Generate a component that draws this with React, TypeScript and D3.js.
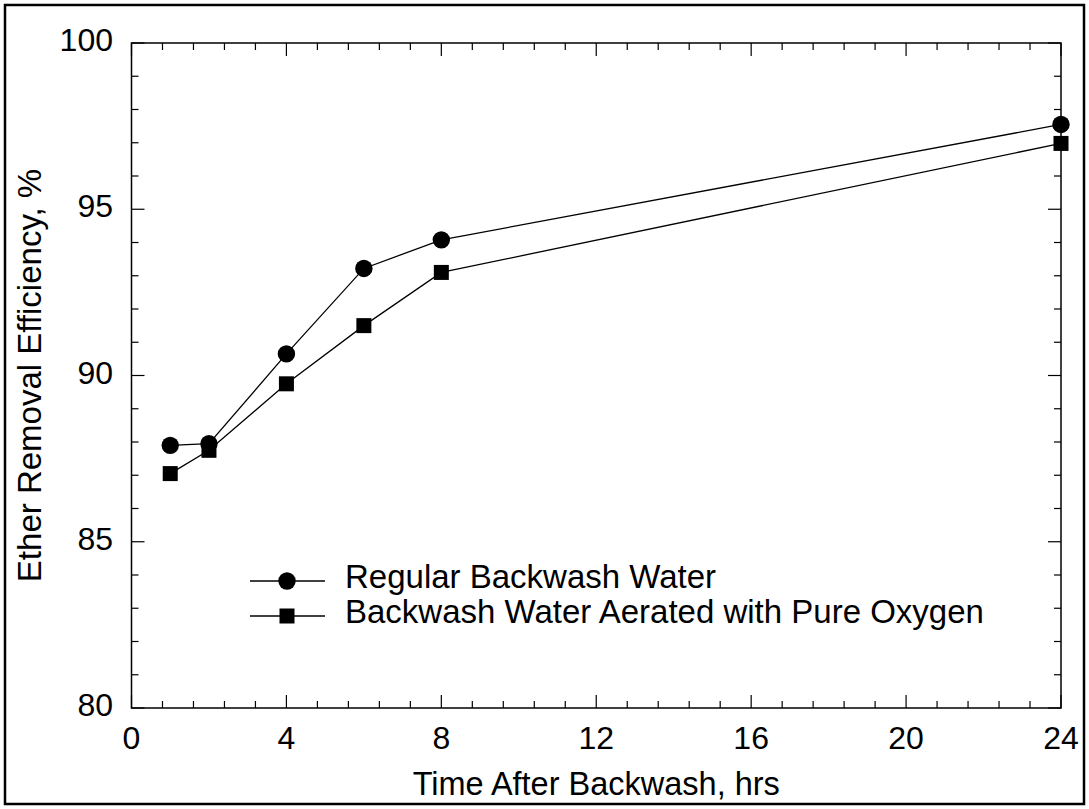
import React from "react";
import * as d3 from "d3";

const hours = [1, 2, 4, 6, 8, 24];
const regularBackwash = [87.9, 87.95, 90.65, 93.22, 94.08, 97.55];
const pureOxygen = [87.05, 87.75, 89.75, 91.5, 93.1, 96.98];
const xTickValues = [0, 4, 8, 12, 16, 20, 24];
const yTickValues = [80, 85, 90, 95, 100];
const seriesNames = ["Regular Backwash Water", "Backwash Water Aerated with Pure Oxygen"];

const W = 1089;
const H = 809;
const M = { left: 131.5, top: 43, right: 1061, bottom: 708 };
const FONT = "'Liberation Sans', Arial, sans-serif";

export default function App() {
  const x = d3.scaleLinear().domain([0, 24]).range([M.left, M.right]);
  const y = d3.scaleLinear().domain([80, 100]).range([M.bottom, M.top]);
  const line = d3
    .line<[number, number]>()
    .x((d) => x(d[0]))
    .y((d) => y(d[1]));

  const xMinor = d3.range(0, 24.001, 0.8).map((v) => Math.round(v * 10) / 10);
  const yMinor = d3.range(80, 100.001, 1);
  const isXMajor = (v: number) => Math.abs(v / 4 - Math.round(v / 4)) < 1e-6;
  const isYMajor = (v: number) => Math.abs(v / 5 - Math.round(v / 5)) < 1e-6;

  const regPts = hours.map((h, i) => [h, regularBackwash[i]] as [number, number]);
  const oxyPts = hours.map((h, i) => [h, pureOxygen[i]] as [number, number]);

  const sq = 15;
  const r = 8.7;
  const legX1 = 250;
  const legX2 = 325;
  const legMid = 287;
  const legY = [581, 616];

  return (
    <svg
      width={W}
      height={H}
      style={{ position: "absolute", left: 0, top: 0, background: "#fff" }}
      fontFamily={FONT}
    >
      <rect x={0} y={0} width={W} height={H} fill="#fff" />
      <rect x={5} y={5} width={W - 10} height={H - 10} fill="none" stroke="#000" strokeWidth={2.5} />

      {/* ticks */}
      {xMinor.map((v) => {
        const len = isXMajor(v) ? 13 : 7;
        return (
          <g key={"xt" + v} stroke="#000" strokeWidth={1.2}>
            <line x1={x(v)} x2={x(v)} y1={M.bottom} y2={M.bottom - len} />
            <line x1={x(v)} x2={x(v)} y1={M.top} y2={M.top + len} />
          </g>
        );
      })}
      {yMinor.map((v) => {
        const len = isYMajor(v) ? 13 : 7;
        return (
          <g key={"yt" + v} stroke="#000" strokeWidth={1.2}>
            <line x1={M.left} x2={M.left + len} y1={y(v)} y2={y(v)} />
            <line x1={M.right} x2={M.right - len} y1={y(v)} y2={y(v)} />
          </g>
        );
      })}

      <rect
        x={M.left}
        y={M.top}
        width={M.right - M.left}
        height={M.bottom - M.top}
        fill="none"
        stroke="#000"
        strokeWidth={1.5}
      />

      {/* tick labels */}
      {xTickValues.map((v) => (
        <text key={"xl" + v} x={x(v)} y={749} textAnchor="middle" fontSize={32} fill="#000">
          {v}
        </text>
      ))}
      {yTickValues.map((v) => (
        <text key={"yl" + v} x={113} y={y(v) + 8} textAnchor="end" fontSize={32} fill="#000">
          {v}
        </text>
      ))}

      {/* axis titles */}
      <text x={(M.left + M.right) / 2} y={795} textAnchor="middle" fontSize={32.5} fill="#000">
        Time After Backwash, hrs
      </text>
      <text
        transform={`translate(41, ${(M.top + M.bottom) / 2}) rotate(-90)`}
        textAnchor="middle"
        fontSize={33}
        fill="#000"
      >
        Ether Removal Efficiency, %
      </text>

      {/* series */}
      <path d={line(regPts) || ""} fill="none" stroke="#000" strokeWidth={1.3} />
      <path d={line(oxyPts) || ""} fill="none" stroke="#000" strokeWidth={1.3} />
      {regPts.map((p, i) => (
        <circle key={"c" + i} cx={x(p[0])} cy={y(p[1])} r={r} fill="#000" />
      ))}
      {oxyPts.map((p, i) => (
        <rect key={"s" + i} x={x(p[0]) - sq / 2} y={y(p[1]) - sq / 2} width={sq} height={sq} fill="#000" />
      ))}

      {/* legend */}
      {seriesNames.map((name, i) => (
        <g key={"lg" + i}>
          <line x1={legX1} x2={legX2} y1={legY[i]} y2={legY[i]} stroke="#000" strokeWidth={1.3} />
          {i === 0 ? (
            <circle cx={legMid} cy={legY[i]} r={r} fill="#000" />
          ) : (
            <rect x={legMid - sq / 2} y={legY[i] - sq / 2} width={sq} height={sq} fill="#000" />
          )}
          <text x={345} y={legY[i] + 7} fontSize={33} fill="#000">
            {name}
          </text>
        </g>
      ))}
    </svg>
  );
}
